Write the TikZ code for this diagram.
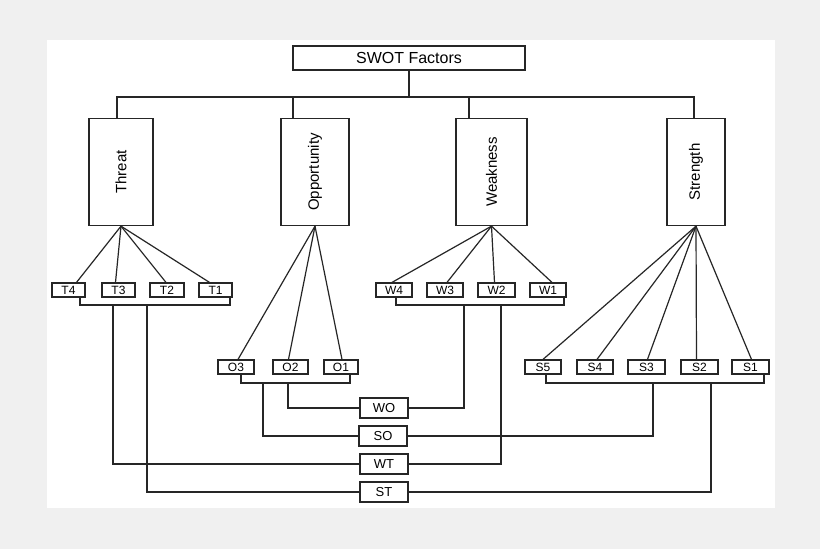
\documentclass[tikz,border=0pt]{standalone}
\usepackage{fontspec}
\setmainfont{Liberation Sans}
\begin{document}
\begin{tikzpicture}[x=1pt,y=-1pt,line width=1.1pt,
  every node/.style={font=\fontsize{12}{13}\selectfont},
  sb/.style={draw=black!85,fill=white,line width=1.2pt,inner sep=0pt,minimum height=14pt},
  cb/.style={draw=black!85,fill=white,line width=1.2pt,inner sep=0pt,minimum width=48pt,minimum height=20pt,font=\fontsize{13}{14}\selectfont},
  mb/.style={draw=black!85,fill=white,line width=1.3pt,inner sep=0pt,rotate=90,minimum width=107pt,font=\fontsize{15}{16}\selectfont},
  ln/.style={draw=black!85,line width=1.2pt}]
\fill[black!6] (0,0) rectangle (820,549);
\fill[white] (47,40) rectangle (775,508);
\useasboundingbox (0,0) rectangle (820,549);
\node[draw=black!85,fill=white,line width=1.3pt,minimum width=232pt,minimum height=24pt,inner sep=0pt,font=\fontsize{16}{17}\selectfont] (swot) at (409,58) {SWOT Factors};
\node[mb,minimum height=64pt] (thr) at (121,172) {Threat};
\node[mb,minimum height=68pt] (opp) at (315,172) {Opportunity};
\node[mb,minimum height=71pt] (wea) at (491.5,172) {Weakness};
\node[mb,minimum height=58pt] (str) at (696,172) {Strength};
\coordinate (bar) at (409,97);
\draw[ln] (swot.south) -- (bar);
\draw[ln] (thr.east -| 117,0) |- (bar) -| (str.east -| 694,0);
\draw[ln,line width=1.8pt] (opp.east -| 293,0) |- (bar) -| (wea.east -| 469,0);
% T
\node[sb,minimum width=33pt] (T4) at (68.5,290) {T4};
\node[sb,minimum width=33pt] (T3) at (118.5,290) {T3};
\node[sb,minimum width=34pt] (T2) at (167,290) {T2};
\node[sb,minimum width=33pt] (T1) at (215.5,290) {T1};
% W
\node[sb,minimum width=36pt] (W4) at (394,290) {W4};
\node[sb,minimum width=36pt] (W3) at (445,290) {W3};
\node[sb,minimum width=37pt] (W2) at (496.5,290) {W2};
\node[sb,minimum width=36pt] (W1) at (548,290) {W1};
% O
\node[sb,minimum width=36pt] (O3) at (236,367) {O3};
\node[sb,minimum width=35pt] (O2) at (290.5,367) {O2};
\node[sb,minimum width=34pt] (O1) at (341,367) {O1};
% S
\node[sb,minimum width=36pt] (S5) at (543,367) {S5};
\node[sb,minimum width=36pt] (S4) at (595,367) {S4};
\node[sb,minimum width=37pt] (S3) at (646.5,367) {S3};
\node[sb,minimum width=37pt] (S2) at (699.5,367) {S2};
\node[sb,minimum width=37pt] (S1) at (750.5,367) {S1};
% combos
\node[cb] (WO) at (384,408) {WO};
\node[cb] (SO) at (383,436) {SO};
\node[cb] (WT) at (384,464) {WT};
\node[cb] (ST) at (384,492) {ST};
% fans
\foreach \n/\dx in {T4/8,T3/-3,T2/-1,T1/-6} \draw[ln] (thr.west) -- ([xshift=\dx pt]\n.north);
\foreach \n/\dx in {O3/2,O2/-2,O1/1} \draw[ln] (opp.west) -- ([xshift=\dx pt]\n.north);
\foreach \n/\dx in {W4/-2,W3/2,W2/-2,W1/4} \draw[ln] (wea.west) -- ([xshift=\dx pt]\n.north);
\foreach \n/\dx in {S5/0,S4/2,S3/1,S2/-3,S1/1} \draw[ln] (str.west) -- ([xshift=\dx pt]\n.north);
% brackets
\draw[ln] (T4.south -| 80,0) |- (230,305) -- (T1.south -| 230,0);
\draw[ln] (W4.south -| 396,0) |- (564,305) -- (W1.south -| 564,0);
\draw[ln] (O3.south -| 241,0) |- (350,383) -- (O1.south -| 350,0);
\draw[ln] (S5.south -| 546,0) |- (764,383) -- (S1.south -| 764,0);
% links
\draw[ln] (288,383) |- (WO.west);
\draw[ln] (464,305) |- (WO.east);
\draw[ln] (263,383) |- (SO.west);
\draw[ln] (653,383) |- (SO.east);
\draw[ln] (113,305) |- (WT.west);
\draw[ln] (501,305) |- (WT.east);
\draw[ln] (147,305) |- (ST.west);
\draw[ln] (711,383) |- (ST.east);
\end{tikzpicture}
\end{document}
